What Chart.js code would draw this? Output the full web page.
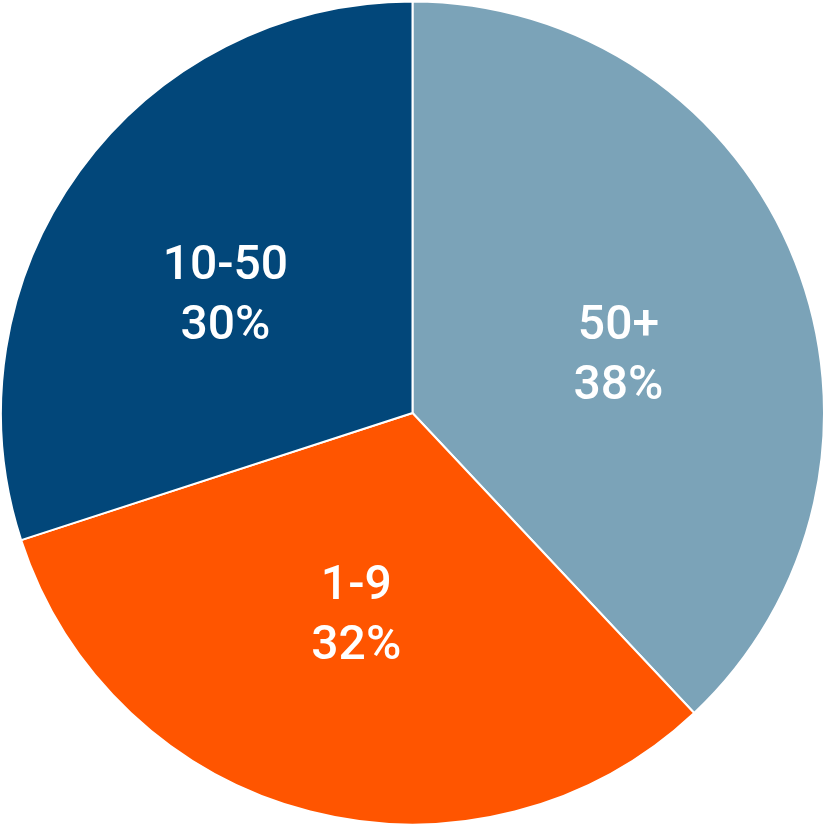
<!DOCTYPE html>
<html>
<head>
<meta charset="utf-8">
<script src="https://cdn.jsdelivr.net/npm/chart.js@4.4.0/dist/chart.umd.min.js"></script>
<style>
html,body{margin:0;padding:0;background:#fff;}
#wrap{width:825px;height:826px;}
</style>
</head>
<body>
<div id="wrap"><canvas id="c" width="825" height="826"></canvas></div>
<script>
const categories = ["50+", "1-9", "10-50"];
const shares = [38, 32, 30];
const colors = ["#7BA3B8", "#FF5500", "#02477A"];

// small per-label placement nudges (styling only), in px
const labelNudge = [[7, 23], [-3, -3], [-14, 10]];

const labelPlugin = {
  id: 'sliceLabels',
  afterDatasetsDraw(chart) {
    const ctx = chart.ctx;
    const meta = chart.getDatasetMeta(0);
    ctx.save();
    ctx.fillStyle = '#ffffff';
    ctx.font = '500 48px Roboto, "Noto Sans", sans-serif';
    ctx.textAlign = 'center';
    ctx.textBaseline = 'middle';
    meta.data.forEach((arc, i) => {
      const p = arc.getProps(['x','y','startAngle','endAngle','outerRadius'], true);
      const mid = (p.startAngle + p.endAngle) / 2;
      const r = p.outerRadius * 0.52;
      const cx = p.x + Math.cos(mid) * r + labelNudge[i][0];
      const cy = p.y + Math.sin(mid) * r + labelNudge[i][1];
      ctx.fillText(categories[i], cx, cy - 30);
      ctx.fillText(shares[i] + '%', cx, cy + 30);
    });
    ctx.restore();
  }
};

new Chart(document.getElementById('c'), {
  type: 'pie',
  data: {
    labels: categories,
    datasets: [{
      data: shares,
      backgroundColor: colors,
      borderColor: '#ffffff',
      borderWidth: 2
    }]
  },
  options: {
    responsive: false,
    animation: false,
    layout: { padding: 0 },
    plugins: {
      legend: { display: false },
      tooltip: { enabled: false }
    }
  },
  plugins: [labelPlugin]
});
</script>
</body>
</html>
